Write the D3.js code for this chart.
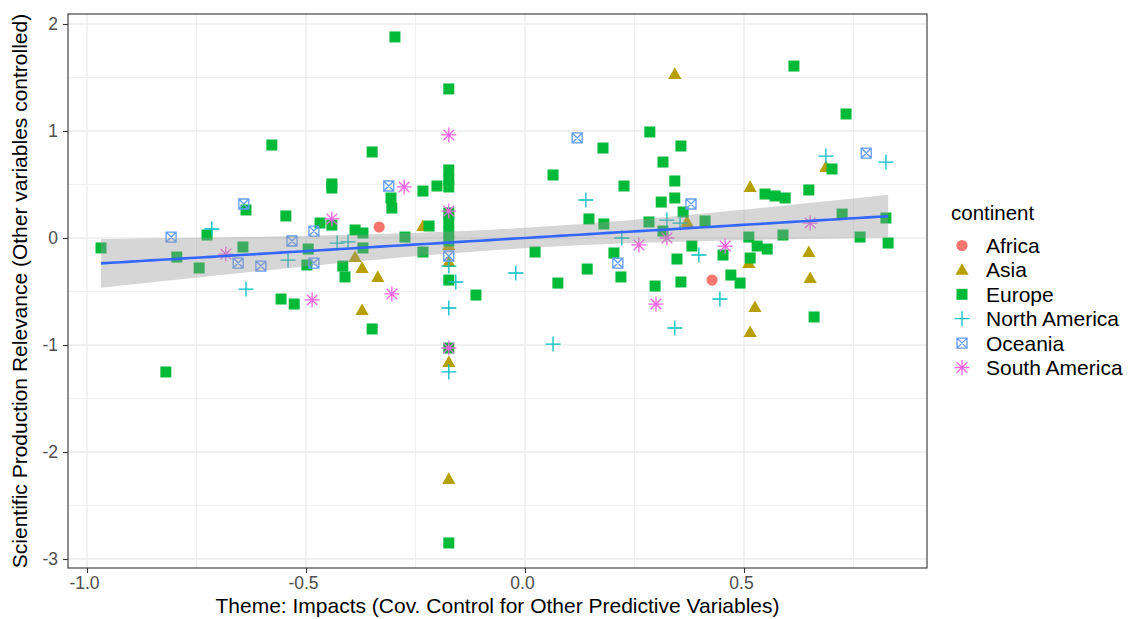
<!DOCTYPE html>
<html lang="en">
<head>
<meta charset="UTF-8">
<title>Impacts vs Scientific Production</title>
<script src="https://cdn.jsdelivr.net/npm/d3@7"></script>
<style>
  body { margin: 0; background: #fff; }
  svg { display: block; font-family: "Liberation Sans", Arial, sans-serif; }
</style>
</head>
<body>
<svg width="1132" height="619"></svg>
<script>
// points, [x, y]
var africa = [[-0.333, 0.103], [0.427, -0.393]];
var asia = [[-0.388, -0.178], [-0.372, -0.280], [-0.372, -0.673], [-0.336, -0.364], [-0.233, 0.112],
  [-0.174, -0.065], [-0.174, -0.224], [-0.174, -1.159], [-0.174, -2.252], [0.342, 1.533],
  [0.370, 0.150], [0.511, -0.234], [0.514, 0.477], [0.514, -0.879], [0.525, -0.645],
  [0.648, -0.131], [0.651, -0.374], [0.687, 0.664]];
var europe = [[-0.968, -0.093], [-0.820, -1.252], [-0.795, -0.178], [-0.744, -0.280], [-0.726, 0.028],
  [-0.644, -0.084], [-0.637, 0.262], [-0.578, 0.869], [-0.546, 0.206], [-0.557, -0.570],
  [-0.527, -0.617], [-0.495, -0.103], [-0.498, -0.252], [-0.468, 0.140], [-0.441, 0.121],
  [-0.441, 0.505], [-0.441, 0.467], [-0.416, -0.262], [-0.411, -0.364], [-0.388, 0.075],
  [-0.370, 0.047], [-0.370, -0.093], [-0.349, 0.804], [-0.349, -0.850], [-0.306, 0.374],
  [-0.304, 0.280], [-0.297, 1.879], [-0.274, 0.009], [-0.233, 0.439], [-0.233, -0.131],
  [-0.219, 0.112], [-0.201, 0.486], [-0.174, 1.393], [-0.174, 0.636], [-0.174, 0.542],
  [-0.174, 0.477], [-0.174, 0.234], [-0.174, 0.150], [-0.174, 0.056], [-0.174, -0.028],
  [-0.174, -0.393], [-0.174, -1.028], [-0.174, -2.850], [-0.112, -0.533], [0.023, -0.131],
  [0.064, 0.589], [0.075, -0.421], [0.142, -0.290], [0.146, 0.178], [0.180, 0.131],
  [0.178, 0.841], [0.203, -0.140], [0.219, -0.364], [0.226, 0.486], [0.283, 0.150],
  [0.285, 0.991], [0.297, -0.449], [0.311, 0.336], [0.315, 0.710], [0.315, 0.065],
  [0.342, 0.533], [0.342, 0.374], [0.347, -0.196], [0.356, 0.860], [0.356, -0.411],
  [0.361, 0.243], [0.381, -0.075], [0.411, 0.159], [0.452, -0.159], [0.470, -0.346],
  [0.491, -0.421], [0.511, 0.009], [0.514, -0.187], [0.530, -0.075], [0.548, 0.411],
  [0.553, -0.103], [0.571, 0.393], [0.589, 0.028], [0.594, 0.374], [0.614, 1.607],
  [0.648, 0.449], [0.660, -0.738], [0.701, 0.645], [0.724, 0.224], [0.733, 1.159],
  [0.765, 0.009], [0.824, 0.187], [0.829, -0.047]];
var northAmerica = [[-0.715, 0.084], [-0.637, -0.477], [-0.541, -0.206], [-0.429, -0.047], [-0.404, -0.037],
  [-0.174, -0.262], [-0.158, -0.411], [-0.174, -0.654], [-0.174, -1.252], [-0.021, -0.327],
  [0.064, -0.991], [0.139, 0.355], [0.221, 0.000], [0.324, 0.168], [0.354, 0.140],
  [0.397, -0.159], [0.445, -0.570], [0.342, -0.841], [0.687, 0.766], [0.824, 0.710]];
var oceania = [[-0.808, 0.009], [-0.655, -0.234], [-0.642, 0.318], [-0.603, -0.262], [-0.532, -0.028],
  [-0.482, 0.065], [-0.482, -0.234], [-0.311, 0.486], [-0.174, -0.168], [0.119, 0.935],
  [0.212, -0.234], [0.379, 0.318], [0.779, 0.794]];
var southAmerica = [[-0.683, -0.150], [-0.486, -0.579], [-0.441, 0.178], [-0.304, -0.523], [-0.276, 0.477],
  [-0.174, 0.963], [-0.174, 0.252], [-0.174, -1.028], [0.260, -0.065], [0.299, -0.617],
  [0.324, 0.000], [0.457, -0.075], [0.651, 0.140]];

var continents = ["Africa", "Asia", "Europe", "North America", "Oceania", "South America"];
var colors = ["#F8766D", "#B79F00", "#00BA38", "#00BFC4", "#619CFF", "#F564E3"];
var shapes = ["circle", "triangle", "square", "plus", "boxx", "asterisk"];
var xTicks = [-1.0, -0.5, 0.0, 0.5];
var yTicks = [-3, -2, -1, 0, 1, 2];

var groups = [africa, asia, europe, northAmerica, oceania, southAmerica];

var svg = d3.select("svg");
// panel edges (don't use "top", it's window.top)
var pL = 68, pR = 927, pT = 14, pB = 568;

var x = d3.scaleLinear().domain([-1.0434, 0.9178]).range([pL, pR]);
var y = d3.scaleLinear().domain([-3.084, 2.0935]).range([pB, pT]);

// grid
var grid = svg.append("g");
var xMinor = [-0.75, -0.25, 0.25, 0.75];
var yMinor = [-2.5, -1.5, -0.5, 0.5, 1.5];
grid.selectAll(".xm").data(xMinor).enter().append("line")
  .attr("x1", d => x(d)).attr("x2", d => x(d)).attr("y1", pT).attr("y2", pB)
  .attr("stroke", "#EBEBEB").attr("stroke-width", 0.8);
grid.selectAll(".ym").data(yMinor).enter().append("line")
  .attr("y1", d => y(d)).attr("y2", d => y(d)).attr("x1", pL).attr("x2", pR)
  .attr("stroke", "#EBEBEB").attr("stroke-width", 0.8);
grid.selectAll(".xM").data(xTicks).enter().append("line")
  .attr("x1", d => x(d)).attr("x2", d => x(d)).attr("y1", pT).attr("y2", pB)
  .attr("stroke", "#EBEBEB").attr("stroke-width", 1.4);
grid.selectAll(".yM").data(yTicks).enter().append("line")
  .attr("y1", d => y(d)).attr("y2", d => y(d)).attr("x1", pL).attr("x2", pR)
  .attr("stroke", "#EBEBEB").attr("stroke-width", 1.4);

// marker shapes, like R pch 16,17,15,3,7,8
function shapePath(s) {
  var p = d3.path();
  if (s == "circle") {
    p.arc(0, 0, 5.6, 0, 2 * Math.PI);
  } else if (s == "triangle") {
    var h = 6.6;
    p.moveTo(0, -h); p.lineTo(h, h * 0.75); p.lineTo(-h, h * 0.75); p.closePath();
  } else if (s == "square") {
    p.rect(-5.5, -5.5, 11, 11);
  } else if (s == "plus") {
    p.moveTo(-7.5, 0); p.lineTo(7.5, 0); p.moveTo(0, -7.5); p.lineTo(0, 7.5);
  } else if (s == "boxx") {
    p.rect(-5, -5, 10, 10);
    p.moveTo(-5, -5); p.lineTo(5, 5); p.moveTo(5, -5); p.lineTo(-5, 5);
  } else if (s == "asterisk") {
    var a = 7.5, b = 5.3;
    p.moveTo(-a, 0); p.lineTo(a, 0); p.moveTo(0, -a); p.lineTo(0, a);
    p.moveTo(-b, -b); p.lineTo(b, b); p.moveTo(b, -b); p.lineTo(-b, b);
  }
  return p.toString();
}

function styleMark(sel, i) {
  var filled = shapes[i] == "circle" || shapes[i] == "triangle" || shapes[i] == "square";
  sel.attr("d", shapePath(shapes[i]))
    .attr("fill", filled ? colors[i] : "none")
    .attr("stroke", filled ? "none" : colors[i])
    .attr("stroke-width", 1.3);
}

var pts = svg.append("g");
groups.forEach(function (g, i) {
  pts.selectAll(".p" + i).data(g).enter().append("path")
    .attr("transform", d => "translate(" + x(d[0]) + "," + y(d[1]) + ")")
    .call(styleMark, i);
});

// linear fit with 95% band (geom_smooth method = lm)
var all = [].concat.apply([], groups);
var n = all.length;
var mx = d3.mean(all, d => d[0]), my = d3.mean(all, d => d[1]);
var sxx = d3.sum(all, d => (d[0] - mx) * (d[0] - mx));
var sxy = d3.sum(all, d => (d[0] - mx) * (d[1] - my));
var slope = sxy / sxx, icpt = my - slope * mx;
var s2 = d3.sum(all, d => Math.pow(d[1] - icpt - slope * d[0], 2)) / (n - 2);
var tq = 1.975;
var xExt = d3.extent(all, d => d[0]);
var xs = d3.range(80).map(k => xExt[0] + k * (xExt[1] - xExt[0]) / 79);
var fit = xs.map(function (v) {
  var se = Math.sqrt(s2 * (1 / n + (v - mx) * (v - mx) / sxx));
  var f = icpt + slope * v;
  return { x: v, f: f, lo: f - tq * se, hi: f + tq * se };
});

svg.append("path").datum(fit)
  .attr("d", d3.area().x(d => x(d.x)).y0(d => y(d.lo)).y1(d => y(d.hi)))
  .attr("fill", "#999999").attr("fill-opacity", 0.4);
svg.append("path").datum(fit)
  .attr("d", d3.line().x(d => x(d.x)).y(d => y(d.f)))
  .attr("fill", "none").attr("stroke", "#3366FF").attr("stroke-width", 2.6);

// panel border
svg.append("rect").attr("x", pL).attr("y", pT)
  .attr("width", pR - pL).attr("height", pB - pT)
  .attr("fill", "none").attr("stroke", "#333333").attr("stroke-width", 1.1);

// axes
var xAxis = svg.append("g").attr("transform", "translate(0," + pB + ")")
  .call(d3.axisBottom(x).tickValues(xTicks).tickSize(5).tickPadding(4));
var yAxis = svg.append("g").attr("transform", "translate(" + pL + ",0)")
  .call(d3.axisLeft(y).tickValues(yTicks).tickSize(5).tickPadding(5));
[xAxis, yAxis].forEach(function (a) {
  a.select(".domain").remove();
  a.selectAll(".tick line").attr("stroke", "#333333").attr("stroke-width", 1.1);
  a.selectAll(".tick text").attr("fill", "#4D4D4D").attr("font-size", 17.5)
    .attr("font-family", "Liberation Sans, Arial, sans-serif");
});
xAxis.selectAll(".tick text").text(d => d.toFixed(1)).attr("dx", -3);
yAxis.selectAll(".tick text").text(d => String(d));

svg.append("text").attr("x", (pL + pR) / 2).attr("y", 613)
  .attr("text-anchor", "middle").attr("font-size", 21).attr("fill", "#000")
  .text("Theme: Impacts (Cov. Control for Other Predictive Variables)");
svg.append("text").attr("transform", "translate(27," + (pT + pB) / 2 + ") rotate(-90)")
  .attr("text-anchor", "middle").attr("font-size", 21).attr("fill", "#000")
  .text("Scientific Production Relevance (Other variables controlled)");

// legend
var legend = svg.append("g");
legend.append("text").attr("x", 951).attr("y", 220).attr("font-size", 20.5).text("continent");
continents.forEach(function (c, i) {
  var ky = 245.5 + i * 24.4;
  legend.append("path").attr("transform", "translate(962," + ky + ")").call(styleMark, i);
  legend.append("text").attr("x", 986).attr("y", ky + 7.5).attr("font-size", 21).text(c);
});
</script>
</body>
</html>
